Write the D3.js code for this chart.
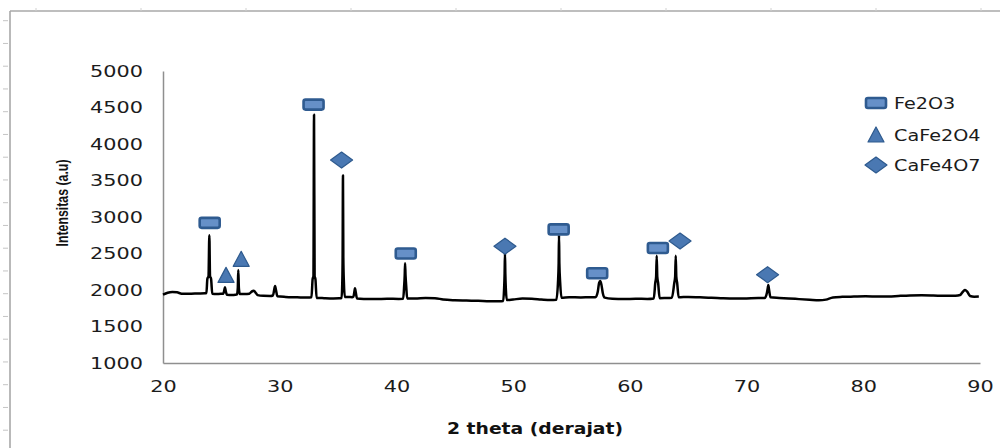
<!DOCTYPE html>
<html><head><meta charset="utf-8">
<script src="https://cdn.jsdelivr.net/npm/d3@7"></script>
<style>
html,body{margin:0;padding:0;background:#fff;}
svg{display:block;}
</style></head>
<body>
<svg id="c" width="1000" height="448"></svg>
<script>
// ---- data ----
const xTicks = [20, 30, 40, 50, 60, 70, 80, 90];
const yTicks = [1000, 1500, 2000, 2500, 3000, 3500, 4000, 4500, 5000];
const xTitle = "2 theta (derajat)";
const yTitle = "Intensitas (a.u)";
const seriesNames = ["Fe2O3", "CaFe2O4", "CaFe4O7"];

const twoTheta = [
 20.0,20.4,20.8,21.2,21.6,22.2,23.0,23.6,23.72,23.80,23.90,23.97,24.03,24.12,24.22,24.6,25.0,
 25.17,25.25,25.31,25.37,25.48,25.9,26.2,26.34,26.41,26.45,26.50,26.58,27.0,27.4,27.6,27.75,27.9,
 28.1,28.6,29.2,29.42,29.52,29.60,29.68,29.80,30.5,31.5,32.4,32.72,32.82,32.89,32.94,32.99,33.06,
 33.16,33.8,34.6,35.1,35.30,35.36,35.39,35.42,35.45,35.50,35.58,35.9,36.2,36.32,36.39,36.45,36.52,
 36.62,37.2,38.2,39.2,40.2,40.58,40.66,40.71,40.74,40.78,40.84,40.92,41.6,42.5,43.3,44.0,45.0,
 46.0,47.0,48.0,48.8,49.15,49.22,49.27,49.30,49.33,49.38,49.46,50.0,50.8,51.6,52.4,53.2,53.70,
 53.84,53.90,53.93,53.96,54.03,54.14,54.8,55.8,56.6,57.05,57.25,57.36,57.46,57.56,57.68,57.85,
 58.5,59.5,60.5,61.5,62.05,62.18,62.25,62.30,62.35,62.42,62.55,63.0,63.6,63.81,63.88,63.93,63.98,
 64.05,64.18,65.0,66.0,67.0,68.0,69.0,70.0,71.0,71.55,71.74,71.82,71.86,71.92,72.05,72.8,73.6,
 74.5,75.4,76.2,76.8,77.4,78.2,79.2,80.2,81.2,82.2,83.0,84.0,85.0,86.0,87.0,87.9,88.3,88.55,
 88.72,88.9,89.15,89.5,89.9
];
const intensity = [
 1935,1962,1972,1968,1950,1948,1952,1955,1958,2150,2190,2750,2190,2150,1950,1945,1948,
 1950,1995,2037,1990,1935,1932,1935,1940,2030,2274,2030,1945,1945,1950,1978,1990,1972,
 1930,1920,1918,1925,1995,2055,2000,1915,1905,1900,1896,1900,2150,2190,4400,2190,2150,
 1892,1888,1885,1886,1890,2100,2450,3570,2450,2100,1905,1905,1902,1910,1970,2023,1965,
 1885,1878,1876,1880,1878,1880,2050,2200,2366,2200,2050,1885,1885,1890,1888,1870,1860,
 1856,1852,1846,1845,1850,2000,2230,2503,2230,2000,1862,1870,1882,1880,1870,1862,1865,
 2100,2366,2753,2366,2100,1895,1900,1898,1900,1900,1975,2095,2123,2075,1960,1895,
 1880,1876,1880,1878,1885,2100,2180,2470,2180,2100,1888,1890,1895,2100,2180,2470,2180,
 2100,1900,1905,1900,1895,1886,1882,1885,1890,1890,1960,2030,2068,2010,1900,1892,1885,
 1875,1866,1858,1868,1898,1906,1910,1913,1912,1910,1918,1926,1928,1925,1920,1922,1932,1980,
 2000,1978,1918,1908,1910
];

const fe2o3X = [24.0, 32.9, 40.8, 53.9, 57.2, 62.4];
const fe2o3Y = [2920, 4540, 2500, 2830, 2230, 2575];
const cafe2o4X = [25.4, 26.7];
const cafe2o4Y = [2200, 2420];
const cafe4o7X = [35.3, 49.3, 64.3, 71.8];
const cafe4o7Y = [3780, 2600, 2670, 2210];

// ---- drawing ----
const svg = d3.select("#c");
const W = 1000, H = 448;
svg.append("rect").attr("width", W).attr("height", H).attr("fill", "#fff");

// outer frame with ruler ticks (sheet decoration)
const deco = svg.append("g");
deco.append("line").attr("x1", 10).attr("x2", W).attr("y1", 11).attr("y2", 11)
  .attr("stroke", "#a8a8a8").attr("stroke-width", 1.6);
deco.append("line").attr("x1", 10).attr("x2", 10).attr("y1", 11).attr("y2", H)
  .attr("stroke", "#a8a8a8").attr("stroke-width", 1.6);
d3.range(20.7, H, 22.75).forEach(v => {
  deco.append("line").attr("x1", 3).attr("x2", 8).attr("y1", v).attr("y2", v)
    .attr("stroke", "#c4c4c4").attr("stroke-width", 1);
});
d3.range(36, W, 105).forEach(v => {
  deco.append("line").attr("x1", v).attr("x2", v).attr("y1", 8).attr("y2", 11)
    .attr("stroke", "#d0d0d0").attr("stroke-width", 1);
});

const x = d3.scaleLinear().domain([20, 90]).range([163, 980]);
const y = d3.scaleLinear().domain([1000, 5000]).range([363, 71]);

const labelFont = "'DejaVu Sans', Verdana, sans-serif";
const txtColor = "#1b1b1b";

// y axis
const gy = svg.append("g").attr("transform", `translate(${x(20)},0)`)
  .call(d3.axisLeft(y).tickValues(yTicks).tickSize(0).tickPadding(15.4).tickFormat(d3.format("d")));
gy.select(".domain").attr("stroke", "#8f8f8f").attr("stroke-width", 1.5);
gy.selectAll("text").attr("font-family", labelFont).attr("font-size", 16)
  .attr("fill", txtColor).attr("transform", "scale(1.3,1)");

// x axis
const gx = svg.append("g").attr("transform", `translate(0,${y(1000)})`)
  .call(d3.axisBottom(x).tickValues(xTicks).tickSize(0).tickPadding(18).tickFormat(d3.format("d")));
gx.select(".domain").attr("stroke", "#8f8f8f").attr("stroke-width", 1.5);
gx.selectAll("text").attr("font-family", labelFont).attr("font-size", 16)
  .attr("fill", txtColor).attr("transform", "scale(1.3,1)");

// axis titles
svg.append("text").text(xTitle)
  .attr("x", 535).attr("y", 434).attr("text-anchor", "middle")
  .attr("font-family", labelFont).attr("font-weight", "bold").attr("font-size", 16)
  .attr("textLength", 176).attr("lengthAdjust", "spacingAndGlyphs").attr("fill", "#111");
svg.append("text").text(yTitle)
  .attr("transform", "translate(68,203) rotate(-90) scale(1,1.3)")
  .attr("text-anchor", "middle")
  .attr("font-family", "'Liberation Sans', Arial, sans-serif").attr("font-weight", "bold").attr("font-size", 13)
  .attr("textLength", 87).attr("lengthAdjust", "spacingAndGlyphs").attr("fill", "#111");

// pattern line
const pts = twoTheta.map((t, i) => [t, intensity[i]]);
const line = d3.line().x(d => x(d[0])).y(d => y(d[1])).curve(d3.curveMonotoneX);
svg.append("path").datum(pts).attr("d", line)
  .attr("fill", "none").attr("stroke", "#000").attr("stroke-width", 2.5)
  .attr("stroke-linejoin", "round");

// markers
const fillBlue = "#4a78b2", edgeBlue = "#2e5a8e";
function drawMarker(g, type, cx, cy) {
  if (type === 0) {
    g.append("rect").attr("x", cx - 10).attr("y", cy - 5).attr("width", 20).attr("height", 10)
      .attr("rx", 2).attr("fill", "#6690c8").attr("stroke", "#2f5b90").attr("stroke-width", 2.6);
  } else if (type === 1) {
    g.append("path").attr("d", `M${cx},${cy - 8}L${cx + 8},${cy + 7}L${cx - 8},${cy + 7}Z`)
      .attr("fill", fillBlue).attr("stroke", edgeBlue).attr("stroke-width", 1.2).attr("stroke-linejoin", "round");
  } else {
    g.append("path").attr("d", `M${cx},${cy - 8}L${cx + 11},${cy}L${cx},${cy + 8}L${cx - 11},${cy}Z`)
      .attr("fill", fillBlue).attr("stroke", edgeBlue).attr("stroke-width", 1.2).attr("stroke-linejoin", "round");
  }
}
const mg = svg.append("g");
[[fe2o3X, fe2o3Y], [cafe2o4X, cafe2o4Y], [cafe4o7X, cafe4o7Y]].forEach((s, k) => {
  s[0].forEach((v, i) => drawMarker(mg, k, x(v), y(s[1][i])));
});

// legend
const lg = svg.append("g");
const legY = [103, 135, 165];
seriesNames.forEach((n, i) => {
  drawMarker(lg, i, 876, legY[i]);
  lg.append("text").text(n)
    .attr("transform", `translate(894,${legY[i] + 6}) scale(1.28,1)`)
    .attr("font-family", labelFont).attr("font-size", 15).attr("fill", txtColor);
});
</script>
</body></html>
